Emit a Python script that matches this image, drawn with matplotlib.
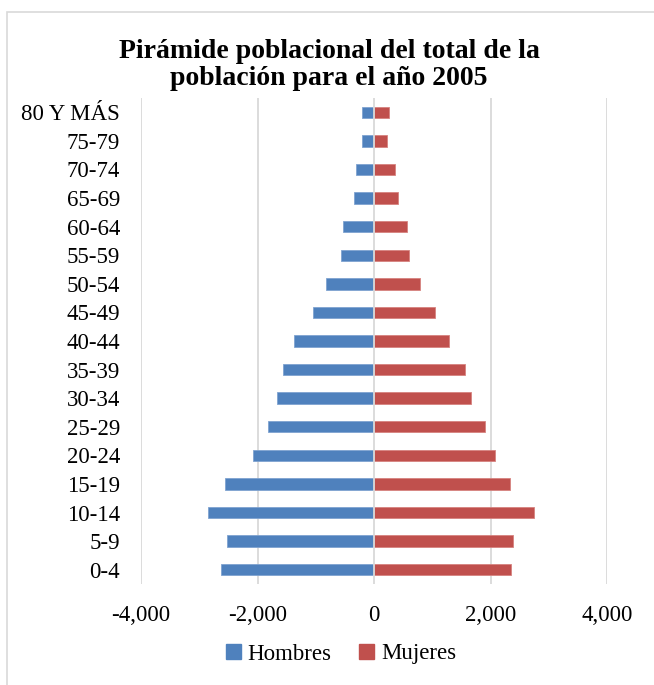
import matplotlib
matplotlib.use("Agg")
import matplotlib.pyplot as plt
from matplotlib.patches import Rectangle, Patch

# Grupos de edad (de abajo hacia arriba)
grupos = ["0-4", "5-9", "10-14", "15-19", "20-24", "25-29", "30-34", "35-39",
          "40-44", "45-49", "50-54", "55-59", "60-64", "65-69", "70-74",
          "75-79", "80 Y MÁS"]
hombres = [2621, 2518, 2850, 2557, 2081, 1818, 1663, 1555,
           1366, 1044, 826, 575, 540, 351, 316, 206, 206]
mujeres = [2349, 2391, 2740, 2332, 2069, 1914, 1662, 1558,
           1290, 1054, 791, 595, 561, 406, 361, 217, 263]
ticks_x = [-4000, -2000, 0, 2000, 4000]

AZUL = "#4F81BD"
ROJO = "#C0504D"
GRIS = "#D9D9D9"

W, H = 654, 685
fig = plt.figure(figsize=(W / 100, H / 100), dpi=100)

# marco del gráfico
fig.patches.append(Rectangle((7 / W, -0.1), 1.2, 1 - 12 / H + 0.1,
                             transform=fig.transFigure, fill=False,
                             edgecolor=GRIS, lw=1.2))

ax = fig.add_axes([141 / W, 1 - 584 / H, (607 - 141) / W, (584 - 98) / H])

y = list(range(len(grupos)))
ax.barh(y, [-v for v in hombres], height=0.4, color=AZUL,
        edgecolor="#7FA3D0", lw=0.6, zorder=2)
ax.barh(y, mujeres, height=0.4, color=ROJO,
        edgecolor="#D6837F", lw=0.6, zorder=2)

for t in ticks_x:
    ax.axvline(t, color=GRIS, lw=1.3, zorder=1 if t != 0 else 3)

ax.set_xlim(-4000, 4000)
ax.set_ylim(-0.5, len(grupos) - 0.5)
ax.set_yticks(y)
ax.set_yticklabels(grupos)
ax.set_xticks(ticks_x)
ax.set_xticklabels([f"{t:,}" for t in ticks_x])
for s in ax.spines.values():
    s.set_visible(False)
ax.tick_params(length=0, labelsize=16.5)
ax.tick_params(axis="y", pad=15)
ax.tick_params(axis="x", pad=15)
for lab in ax.get_xticklabels() + ax.get_yticklabels():
    lab.set_family("Liberation Serif")

fig.text(329 / W, 1 - 65 / H,
         "Pirámide poblacional del total de la\npoblación para el año 2005",
         ha="center", va="center", fontsize=20, fontweight="bold",
         family="Liberation Serif", linespacing=1.1)

handles = [Patch(color=AZUL), Patch(color=ROJO)]
fig.legend(handles, ["Hombres", "Mujeres"], loc="center",
           bbox_to_anchor=(341 / W, 1 - 654 / H), ncol=2, frameon=False,
           prop={"family": "Liberation Serif", "size": 16.5},
           handlelength=0.65, handleheight=0.65, handletextpad=0.3,
           columnspacing=1.2)

fig.savefig("out.png", dpi=100)
